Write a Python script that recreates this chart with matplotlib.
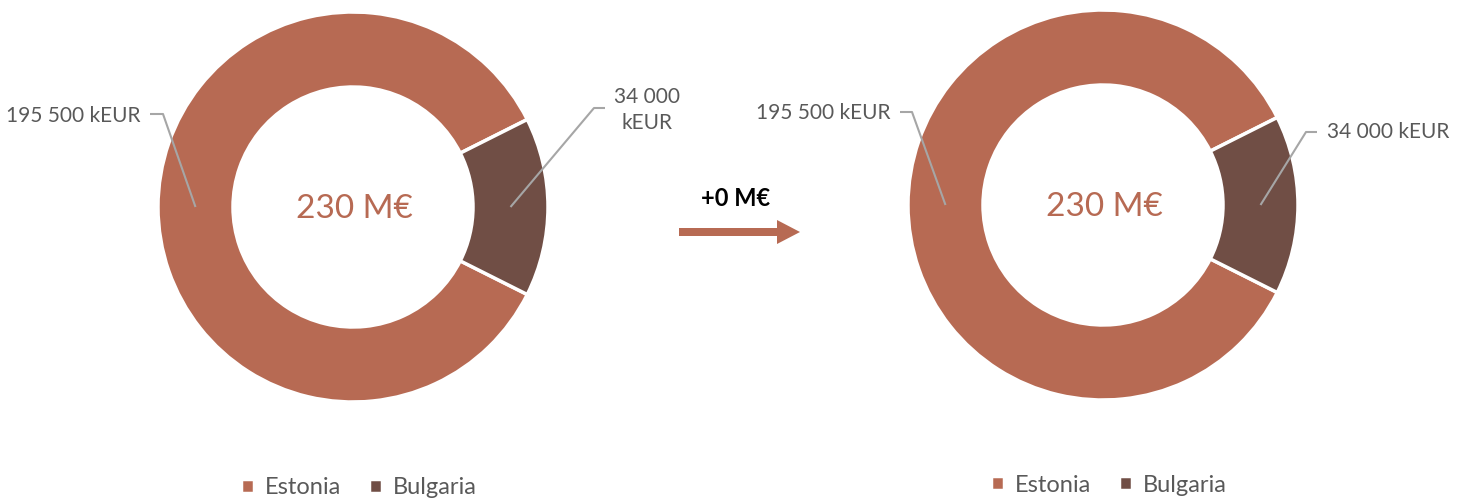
import numpy as np
import matplotlib.pyplot as plt

plt.rcParams['font.family'] = ['Lato', 'DejaVu Sans']

# datos
countries = ["Estonia", "Bulgaria"]
before_keur = [195500, 34000]
after_keur = [195500, 34000]
colors = ["#B76A53", "#704E45"]
label_grey = "#595959"
line_grey = "#A6A6A6"


def fmt_keur(v):
    return f"{v:,}".replace(",", " ") + " kEUR"


fig = plt.figure(figsize=(14.65, 5.04), dpi=100)
ax = fig.add_axes([0, 0, 1, 1])

H = 504
R = 195
W = 75


def donut(cx, cy, values, leaders):
    start = 180 * values[1] / sum(values)
    wedges, _ = ax.pie(values, colors=colors, startangle=start, counterclock=True,
                       center=(cx, H - cy), radius=R,
                       wedgeprops=dict(width=W, edgecolor="white", linewidth=2.5))
    # total en el centro
    ax.text(cx + 1, H - cy - 2, f"{sum(values) / 1000:.0f} M€", ha="center", va="center",
            fontsize=24, color=colors[0])
    # lineas guia hacia el centro de cada sector
    for w, (lx, ly, kx) in zip(wedges, leaders):
        mid = np.deg2rad((w.theta1 + w.theta2) / 2)
        rr = R - W / 2
        px = cx + rr * np.cos(mid)
        py = (H - cy) + rr * np.sin(mid)
        ax.plot([lx, kx, px], [H - ly, H - ly, py], color=line_grey, lw=1.5,
                solid_capstyle="butt", zorder=3)
    return wedges


# donut izquierdo
wl = donut(353, 207, before_keur, [(150, 114, 163), (605, 108, 594)])
ax.text(141, H - 116, fmt_keur(before_keur[0]), ha="right", va="center", fontsize=15,
        color=label_grey)
ax.text(647, H - 110, fmt_keur(before_keur[1]).replace(" kEUR", "\nkEUR"), ha="center",
        va="center", fontsize=15, color=label_grey, linespacing=1.4)

# donut derecho
wr = donut(1103, 205, after_keur, [(900, 112, 912), (1317, 132, 1306)])
ax.text(890, H - 113, fmt_keur(after_keur[0]), ha="right", va="center", fontsize=15,
        color=label_grey)
ax.text(1327, H - 132, fmt_keur(after_keur[1]), ha="left", va="center", fontsize=15,
        color=label_grey)

# flecha y diferencia
delta = (sum(after_keur) - sum(before_keur)) / 1000
ax.arrow(679, H - 232, 121, 0, width=8, head_width=24, head_length=23,
         length_includes_head=True, color=colors[0], lw=0)
ax.text(736, H - 199, f"{delta:+.0f} M€", ha="center", va="center", fontsize=17,
        fontweight="bold", color="black")

# leyendas
leg_kw = dict(loc="center", ncol=2, frameon=False, fontsize=17, handlelength=0.55,
              handleheight=0.55, handletextpad=0.45, columnspacing=1.2,
              labelcolor=label_grey)
leg1 = ax.legend(wl, countries, bbox_to_anchor=(359 / 1465, 16 / H), **leg_kw)
ax.add_artist(leg1)
ax.legend(wr, countries, bbox_to_anchor=(1109 / 1465, 19 / H), **leg_kw)

ax.set_xlim(0, 1465)
ax.set_ylim(0, H)
ax.set_aspect("equal")
ax.axis("off")

fig.savefig("out.png", dpi=100)
